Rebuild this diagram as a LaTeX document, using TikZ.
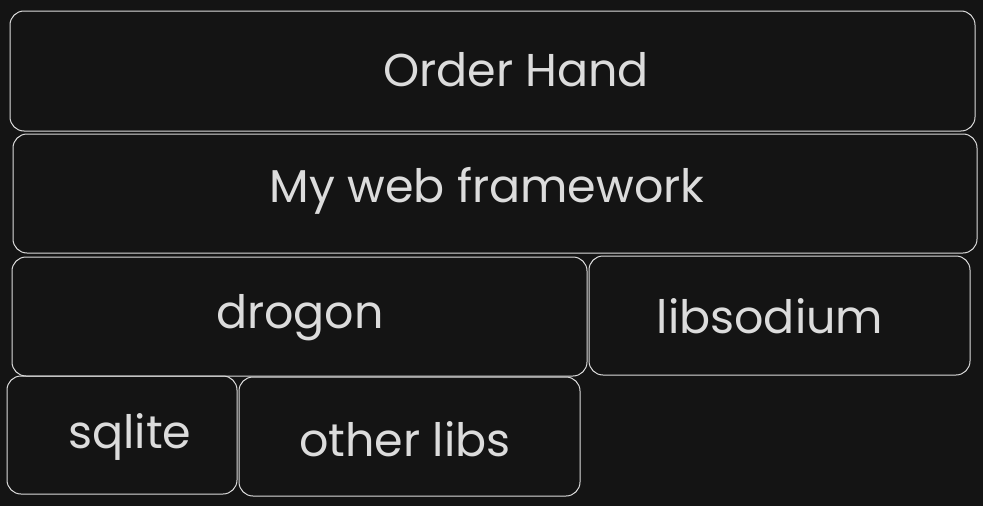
\documentclass[tikz,border=0pt]{standalone}
\usepackage{fontspec}
\setmainfont{Poppins}
\definecolor{bg}{HTML}{141414}
\definecolor{fg}{HTML}{DCDCDC}
\begin{document}
\begin{tikzpicture}[x=1pt,y=-1pt,
  blk/.style={draw=fg,line width=1pt,rounded corners=14pt},
  lbl/.style={text=fg,font=\fontsize{46}{48}\selectfont}]
\fill[bg] (0,0) rectangle (983,506);
\useasboundingbox (0,0) rectangle (983,506);
\draw[blk] (10,11) rectangle (975,131);
\node[lbl] (order) at (516,70) {Order Hand};
\draw[blk] (13,134) rectangle (977,253);
\node[lbl] (web) at (487,191) {My web framework};
\draw[blk] (12,257) rectangle (587,376);
\node[lbl] (drogon) at (300,318) {drogon};
\draw[blk] (589,256) rectangle (970,375);
\node[lbl] (sodium) at (770,316) {libsodium};
\draw[blk] (7,376) rectangle (237,494);
\node[lbl] (sqlite) at (130,437) {sqlite};
\draw[blk] (239,377) rectangle (580,496);
\node[lbl] (other) at (405,439) {other libs};
\end{tikzpicture}
\end{document}
